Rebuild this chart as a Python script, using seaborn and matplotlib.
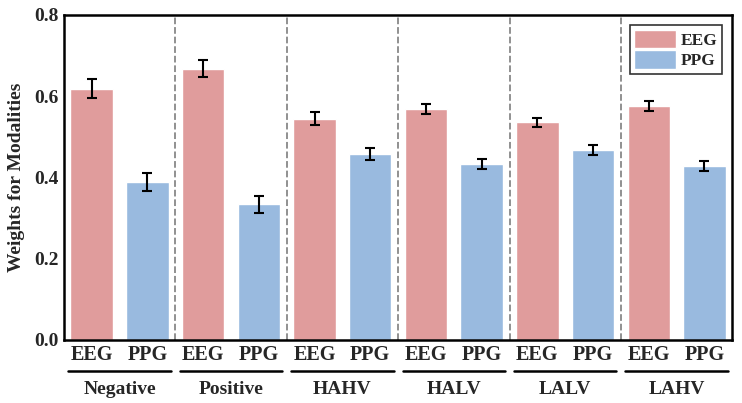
import numpy as np
import pandas as pd
import seaborn as sns
import matplotlib.pyplot as plt
import matplotlib.transforms as mtransforms

# Weights per class and modality
classes = ['Negative', 'Positive', 'HAHV', 'HALV', 'LALV', 'LAHV']
modalities = ['EEG', 'PPG']
eeg_mean = [0.618, 0.668, 0.544, 0.569, 0.536, 0.576]
ppg_mean = [0.388, 0.334, 0.457, 0.433, 0.468, 0.428]
eeg_err = [0.023, 0.020, 0.016, 0.012, 0.011, 0.013]
ppg_err = [0.022, 0.021, 0.015, 0.012, 0.012, 0.012]

rows = []
for i, c in enumerate(classes):
    rows.append({'slot': c + '_EEG', 'Class': c, 'Modality': 'EEG', 'Weight': eeg_mean[i], 'Err': eeg_err[i]})
    rows.append({'slot': c + '_PPG', 'Class': c, 'Modality': 'PPG', 'Weight': ppg_mean[i], 'Err': ppg_err[i]})
df = pd.DataFrame(rows)

sns.set_style('white')
plt.rcParams['font.family'] = ['Liberation Serif', 'DejaVu Serif']
plt.rcParams['font.weight'] = 'bold'

fig, ax = plt.subplots(figsize=(7.42, 4.03), dpi=100)
sns.barplot(data=df, x='slot', y='Weight', hue='Modality', dodge=False,
            palette={'EEG': '#E09C9C', 'PPG': '#99BADF'}, width=0.76,
            saturation=1, errorbar=None, ax=ax)

x = np.arange(len(df))
ax.errorbar(x, df['Weight'], yerr=df['Err'], fmt='none', ecolor='black',
            elinewidth=1.5, capsize=3.5, capthick=1.5)

# dashed separators between classes
for k in range(1, len(classes)):
    ax.axvline(2 * k - 0.5, color='#888888', linestyle='--', linewidth=1.3, zorder=0)

ax.set_xlim(-0.5, len(df) - 0.5)
ax.set_ylim(0, 0.8)
ax.set_yticks([0.0, 0.2, 0.4, 0.6, 0.8])
ax.set_yticklabels(['0.0', '0.2', '0.4', '0.6', '0.8'], fontsize=14, fontweight='bold')
ax.set_xticks(x)
ax.set_xticklabels(df['Modality'], fontsize=14.5, fontweight='bold')
ax.tick_params(axis='y', length=0, pad=4)
ax.tick_params(axis='x', length=0, pad=4)
ax.set_xlabel('')
ax.set_ylabel('Weights for Modalities', fontsize=14, fontweight='bold', labelpad=6)

for s in ax.spines.values():
    s.set_color('black')
    s.set_linewidth(1.8)

# class labels with underline below the tick labels
trans = mtransforms.blended_transform_factory(ax.transData, ax.transAxes)
for i, c in enumerate(classes):
    x0, x1 = 2 * i - 0.42, 2 * i + 1.42
    ax.plot([x0, x1], [-0.097, -0.097], color='black', linewidth=1.8,
            transform=trans, clip_on=False)
    ax.text(2 * i + 0.5, -0.152, c, transform=trans, ha='center', va='center',
            fontsize=14, fontweight='bold')

leg = ax.legend(loc='upper right', fontsize=12.5, frameon=True, fancybox=False,
                handlelength=2.4, handleheight=1.25, borderpad=0.25,
                labelspacing=0.1, handletextpad=0.3, borderaxespad=0.6)
leg.get_frame().set_edgecolor('black')
leg.get_frame().set_linewidth(1.2)
for t in leg.get_texts():
    t.set_fontweight('bold')

plt.subplots_adjust(left=0.086, right=0.987, top=0.963, bottom=0.157)
plt.savefig('out.png', dpi=100)
